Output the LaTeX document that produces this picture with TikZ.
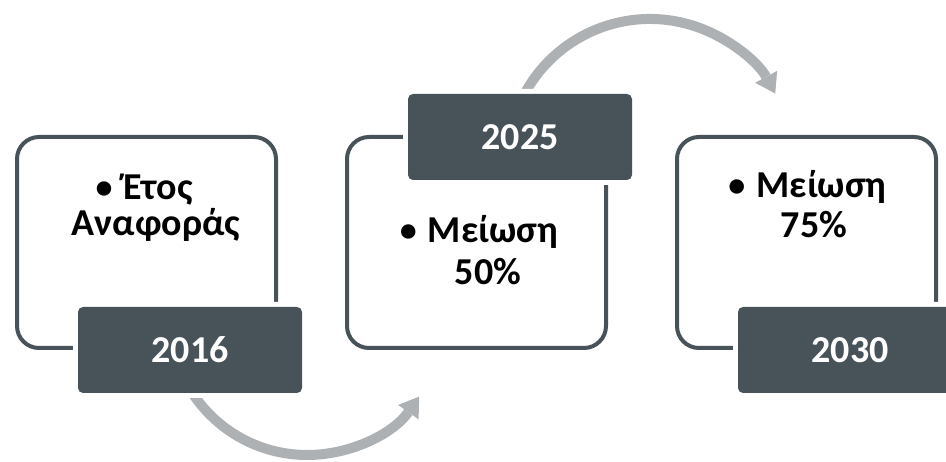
\documentclass[tikz,border=0pt]{standalone}
\usepackage{fontspec}
\setmainfont{Carlito}
\usetikzlibrary{arrows.meta}
\definecolor{slate}{RGB}{72,83,89}
\definecolor{arcgray}{RGB}{174,177,179}
\newcommand{\blt}{\raisebox{1pt}{\fontsize{34}{36}\selectfont •}\hspace{11pt}}
\begin{document}
\begin{tikzpicture}[x=1pt,y=1pt,
  outline/.style={draw=slate, line width=4pt, rounded corners=22pt, minimum width=259pt, minimum height=211pt, inner sep=0pt},
  yearbox/.style={fill=slate, rounded corners=5pt, minimum width=224pt, minimum height=86pt, inner sep=0pt, text=white,
    font=\bfseries\fontsize{38}{40}\selectfont, preaction={draw=white, line width=10pt}},
  bodytext/.style={anchor=base, inner sep=0pt, font=\bfseries\fontsize{38}{40}\selectfont, text=black},
  flow/.style={draw=arcgray, line width=10pt, -{Triangle[width=25pt,length=19pt,line width=0pt]}}
]
\useasboundingbox (0,0) rectangle (946,462);
\clip (0,0) rectangle (946,462);
% arc centres
\coordinate (c1) at (307,144);
\coordinate (c2) at (650,300.5);
% arrows
\draw[flow] ([shift={(210:137)}]c1) arc[start angle=210, end angle=325, radius=137];
\draw[flow] ([shift={(160:142.5)}]c2) arc[start angle=160, end angle=28.5, radius=142.5];
% outline boxes
\node[outline] (b1) at (146.5,219.5) {};
\node[outline] (b2) at (476.5,219.5) {};
\node[outline] (b3) at (806.5,219.5) {};
% year boxes
\node[yearbox] (y1) at (190,112) {2016};
\node[yearbox] (y2) at (520,325) {2025};
\node[yearbox] (y3) at (850,112) {2030};
% texts
\node[bodytext] (t1a) at (144,262) {\blt Έτος};
\node[bodytext] (t1b) at (156,226) {Αναφοράς};
\node[bodytext] (t2a) at (479,219) {\blt Μείωση};
\node[bodytext] (t2b) at (488,177) {50\%};
\node[bodytext] (t3a) at (807.5,264) {\blt Μείωση};
\node[bodytext] (t3b) at (814,224) {75\%};
\end{tikzpicture}
\end{document}
